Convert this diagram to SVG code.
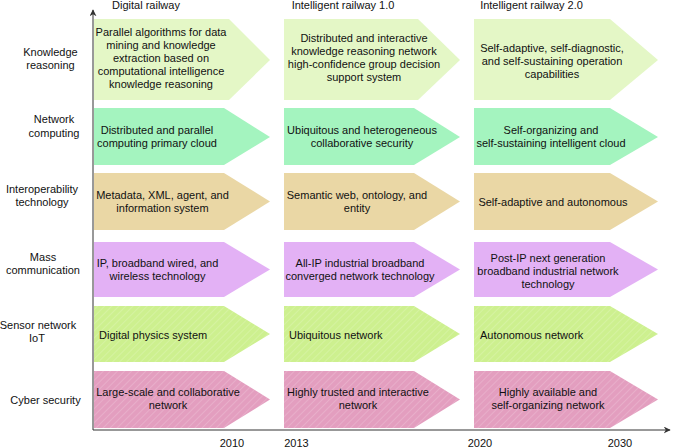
<svg xmlns="http://www.w3.org/2000/svg" width="673" height="448" viewBox="0 0 673 448">
<defs>
<pattern id="hatch" patternUnits="userSpaceOnUse" width="5" height="5" patternTransform="rotate(45)">
<rect width="5" height="5" fill="none"/>
<line x1="0" y1="0" x2="0" y2="5" stroke="#ffffff" stroke-opacity="0.22" stroke-width="1.5"/>
</pattern>
<marker id="ah" viewBox="0 0 10 10" refX="9" refY="5" markerWidth="7" markerHeight="7" orient="auto" markerUnits="userSpaceOnUse">
<path d="M0,0 L10,5 L0,10 L3,5 Z" fill="#333333"/>
</marker>
</defs>
<style>
text{font-family:"Liberation Sans",Arial,Helvetica,sans-serif;font-size:11px;fill:#111111}
.c{text-anchor:middle}
.r1{fill:#e4f7c6}
.r2{fill:#a4f4bf}
.r3{fill:#ead7a5}
.r4{fill:#e3b1f5}
.r5{fill:#cdf08f}
.r6{fill:#e39ebf}
.h{fill:url(#hatch)}
.ax{stroke:#333333;stroke-width:1;fill:none}
</style>
<rect width="673" height="448" fill="#ffffff"/>

<g id="headers">
<text x="146" y="9" class="c">Digital railway</text>
<text x="343" y="9" class="c">Intelligent railway 1.0</text>
<text x="531.5" y="9" class="c">Intelligent railway 2.0</text>
</g>

<g id="row-labels">
<text x="50.5" y="56" class="c">Knowledge</text>
<text x="50.5" y="69" class="c">reasoning</text>
<text x="54" y="123" class="c">Network</text>
<text x="54" y="137" class="c">computing</text>
<text x="42" y="193" class="c">Interoperability</text>
<text x="42" y="206" class="c">technology</text>
<text x="43" y="260.5" class="c">Mass</text>
<text x="43" y="274" class="c">communication</text>
<text x="38" y="329" class="c">Sensor network</text>
<text x="37" y="342" class="c">IoT</text>
<text x="45.5" y="404" class="c">Cyber security</text>
</g>

<g id="connectors">
<line x1="93" y1="430" x2="93" y2="10" class="ax" marker-end="url(#ah)"/>
<line x1="93" y1="430" x2="670" y2="430" class="ax" marker-end="url(#ah)"/>
</g>

<g id="years">
<text x="232" y="447" class="c">2010</text>
<text x="296.5" y="447" class="c">2013</text>
<text x="480" y="447" class="c">2020</text>
<text x="620" y="447" class="c">2030</text>
</g>

<!-- Row 1 -->
<g id="kr-digital">
<path class="r1" d="M94,19 H229 L270,60 L229,100 H94 Z"/>
<text x="161" y="35.5" class="c">Parallel algorithms for data</text>
<text x="161" y="48.5" class="c">mining and knowledge</text>
<text x="161" y="61.5" class="c">extraction based on</text>
<text x="161" y="74.5" class="c">computational intelligence</text>
<text x="161" y="87.5" class="c">knowledge reasoning</text>
</g>
<g id="kr-ir1">
<path class="r1" d="M284,19 H418 L460,60 L418,100 H284 Z"/>
<text x="364" y="42" class="c">Distributed and interactive</text>
<text x="364" y="55" class="c">knowledge reasoning network</text>
<text x="364" y="68" class="c">high-confidence group decision</text>
<text x="364" y="81" class="c">support system</text>
</g>
<g id="kr-ir2">
<path class="r1" d="M474,19 H610 L658,60 L610,100 H474 Z"/>
<text x="552" y="51.5" class="c">Self-adaptive, self-diagnostic,</text>
<text x="552" y="64.5" class="c">and self-sustaining operation</text>
<text x="552" y="77.5" class="c">capabilities</text>
</g>

<!-- Row 2 -->
<g id="nc-digital">
<path class="r2" d="M94,108 H224 L270,137 L224,165 H94 Z"/>
<text x="157" y="134" class="c">Distributed and parallel</text>
<text x="157" y="147" class="c">computing primary cloud</text>
</g>
<g id="nc-ir1">
<path class="r2" d="M284,108 H414 L460,137 L414,165 H284 Z"/>
<text x="362" y="134" class="c">Ubiquitous and heterogeneous</text>
<text x="362" y="147" class="c">collaborative security</text>
</g>
<g id="nc-ir2">
<path class="r2" d="M474,108 H610 L658,137 L610,165 H474 Z"/>
<text x="551" y="134" class="c">Self-organizing and</text>
<text x="551" y="147" class="c">self-sustaining intelligent cloud</text>
</g>

<!-- Row 3 -->
<g id="it-digital">
<path class="r3" d="M94,173 H224 L270,201.5 L224,230 H94 Z"/>
<text x="162.5" y="199" class="c">Metadata, XML, agent, and</text>
<text x="162.5" y="212" class="c">information system</text>
</g>
<g id="it-ir1">
<path class="r3" d="M284,173 H414 L460,201.5 L414,230 H284 Z"/>
<text x="357" y="199" class="c">Semantic web, ontology, and</text>
<text x="357" y="212" class="c">entity</text>
</g>
<g id="it-ir2">
<path class="r3" d="M474,173 H610 L658,201.5 L610,230 H474 Z"/>
<text x="553" y="205.5" class="c">Self-adaptive and autonomous</text>
</g>

<!-- Row 4 -->
<g id="mc-digital">
<path class="r4" d="M94,242 H224 L270,269.5 L224,297 H94 Z"/>
<text x="157.5" y="266.5" class="c">IP, broadband wired, and</text>
<text x="157.5" y="279.5" class="c">wireless technology</text>
</g>
<g id="mc-ir1">
<path class="r4" d="M284,242 H414 L460,269.5 L414,297 H284 Z"/>
<text x="360" y="266.5" class="c">All-IP industrial broadband</text>
<text x="360" y="279.5" class="c">converged network technology</text>
</g>
<g id="mc-ir2">
<path class="r4" d="M474,242 H610 L658,269.5 L610,297 H474 Z"/>
<text x="548" y="262" class="c">Post-IP next generation</text>
<text x="548" y="275" class="c">broadband industrial network</text>
<text x="548" y="288" class="c">technology</text>
</g>

<!-- Row 5 -->
<g id="sn-digital">
<path class="r5" d="M94,306 H224 L270,334 L224,362 H94 Z"/>
<path class="h" d="M94,306 H224 L270,334 L224,362 H94 Z"/>
<text x="99" y="338.5">Digital physics system</text>
</g>
<g id="sn-ir1">
<path class="r5" d="M284,306 H414 L460,334 L414,362 H284 Z"/>
<path class="h" d="M284,306 H414 L460,334 L414,362 H284 Z"/>
<text x="289" y="338.5">Ubiquitous network</text>
</g>
<g id="sn-ir2">
<path class="r5" d="M474,306 H610 L658,334 L610,362 H474 Z"/>
<path class="h" d="M474,306 H610 L658,334 L610,362 H474 Z"/>
<text x="480" y="338.5">Autonomous network</text>
</g>

<!-- Row 6 -->
<g id="cs-digital">
<path class="r6" d="M94,371 H224 L270,399.5 L224,428 H94 Z"/>
<path class="h" d="M94,371 H224 L270,399.5 L224,428 H94 Z"/>
<text x="168" y="396" class="c">Large-scale and collaborative</text>
<text x="168" y="409" class="c">network</text>
</g>
<g id="cs-ir1">
<path class="r6" d="M284,371 H414 L460,399.5 L414,428 H284 Z"/>
<path class="h" d="M284,371 H414 L460,399.5 L414,428 H284 Z"/>
<text x="358" y="396" class="c">Highly trusted and interactive</text>
<text x="358" y="409" class="c">network</text>
</g>
<g id="cs-ir2">
<path class="r6" d="M474,371 H610 L658,399.5 L610,428 H474 Z"/>
<path class="h" d="M474,371 H610 L658,399.5 L610,428 H474 Z"/>
<text x="548" y="396" class="c">Highly available and</text>
<text x="548" y="409" class="c">self-organizing network</text>
</g>
</svg>
